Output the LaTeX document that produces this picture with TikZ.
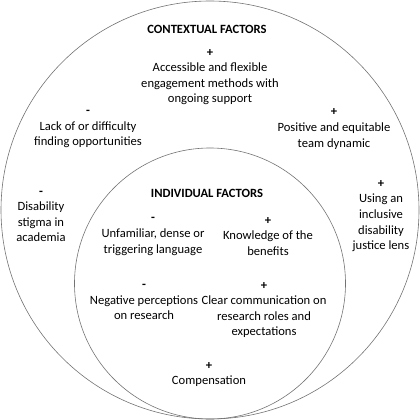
\documentclass[tikz,border=0pt]{standalone}
\usepackage{fontspec}
\setmainfont{Carlito}
\usetikzlibrary{positioning}

\newcommand{\plussign}{\textbf{+}}
\newcommand{\minussign}{\textbf{-}}

\begin{document}
\begin{tikzpicture}[x=1pt, y=-1pt,
  factor/.style={align=center, inner sep=0pt, font=\fontsize{12.6}{15.6}\selectfont},
  heading/.style={factor, font=\fontsize{12.6}{15.6}\selectfont\bfseries},
  ring/.style={draw=black!55, line width=0.6pt}]
\useasboundingbox (0,0) rectangle (420,420);
% the two circles
\draw[ring] (210,210) circle (209);
\draw[ring] (210,283.5) circle (135.5);
% contextual factors
\node[heading] (ctx) at (207,29) {CONTEXTUAL FACTORS};
\node[factor] (access) at (210,77) {\plussign\\Accessible and flexible\\engagement methods with\\ongoing support};
\node[factor] (lack) at (88,129) {\minussign\\Lack of or difficulty\\finding opportunities};
\node[factor] (team) at (334,129) {\plussign\\Positive and equitable\\team dynamic};
\node[factor] (stigma) at (41,216.5) {\minussign\\Disability\\stigma in\\academia};
\node[factor] (lens) at (381,216) {\plussign\\Using an\\inclusive\\disability\\justice lens};
% individual factors
\node[heading] (ind) at (207,193) {INDIVIDUAL FACTORS};
\node[factor] (lang) at (153,236.5) {\minussign\\Unfamiliar, dense or\\triggering language};
\node[factor] (know) at (268,236.5) {\plussign\\Knowledge of the\\benefits};
\node[factor] (neg) at (144,302) {\minussign\\Negative perceptions\\on research};
\node[factor] (clear) at (264,310) {\plussign\\Clear communication on\\research roles and\\expectations};
\node[factor] (comp) at (209,374.5) {\plussign\\Compensation};
\end{tikzpicture}
\end{document}
